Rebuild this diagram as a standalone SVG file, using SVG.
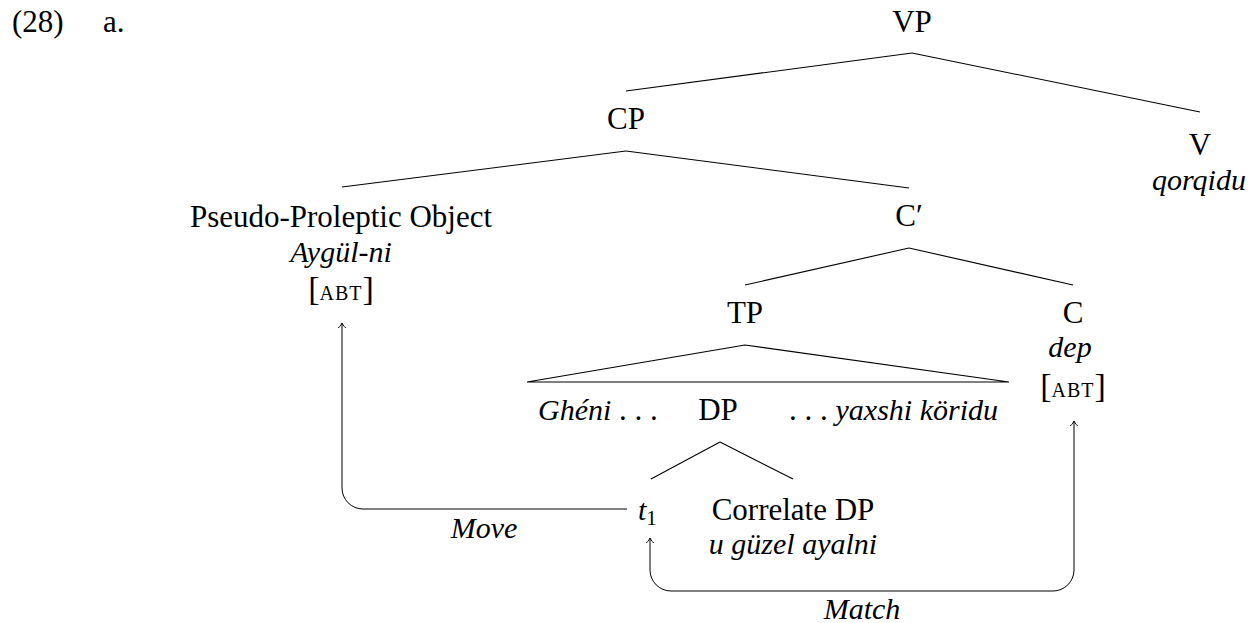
<svg xmlns="http://www.w3.org/2000/svg" width="1260" height="623" viewBox="0 0 1260 623" font-family="'Liberation Serif', Tinos, 'DejaVu Serif', serif">
<style>
  text { font-family: 'Liberation Serif', Tinos, 'DejaVu Serif', serif; font-size: 31px; fill: #000; }
  .c { text-anchor: middle; }
  .i { font-style: italic; font-size: 30px; }
  .br { font-size: 34px; }
  .sc { font-size: 20px; letter-spacing: 1px; }
  .edge { stroke: #000; stroke-width: 1.1; fill: none; }
  .arrow { stroke: #000; stroke-width: 1; fill: none; }
</style>
<defs>
  <marker id="to" markerUnits="userSpaceOnUse" markerWidth="12" markerHeight="12" viewBox="-6 -6 12 12" refX="0" refY="0" orient="auto-start-reverse">
    <path d="M -5 -3.8 C -3 -1.6 -1 -0.4 0 0 C -1 0.4 -3 1.6 -5 3.8" stroke="#000" stroke-width="1" fill="none"/>
  </marker>
</defs>
<rect width="1260" height="623" fill="#fff"/>

<g id="label">
  <text x="12" y="32" font-size="30">(28)</text>
  <text x="103" y="32" font-size="30">a.</text>
</g>

<g id="connectors">
  <path class="edge" d="M 912 53 L 626 91"/>
  <path class="edge" d="M 912 53 L 1200 112"/>
  <path class="edge" d="M 626 151 L 342 187"/>
  <path class="edge" d="M 626 151 L 909 188"/>
  <path class="edge" d="M 909 248 L 745 285"/>
  <path class="edge" d="M 909 248 L 1073 285"/>
  <path class="edge" d="M 745 345 L 527 382 L 1009 382 Z"/>
  <path class="edge" d="M 720 442 L 651 479"/>
  <path class="edge" d="M 720 442 L 793 479"/>
  <path class="arrow" marker-end="url(#to)" d="M 627 509 H 363 A 21 21 0 0 1 342 488 V 323"/>
  <path class="arrow" marker-start="url(#to)" marker-end="url(#to)" d="M 650 538 V 570 A 21 21 0 0 0 671 591 H 1053 A 21 21 0 0 0 1074 570 V 421"/>
  <text class="c i" x="484" y="538">Move</text>
  <text class="c i" x="862" y="619">Match</text>
</g>

<g id="n-vp"><text class="c" x="912" y="32">VP</text></g>
<g id="n-cp"><text class="c" x="626" y="129">CP</text></g>
<g id="n-v">
  <text class="c" x="1200" y="155">V</text>
  <text class="c i" x="1199" y="190">qorqidu</text>
</g>
<g id="n-ppo">
  <text class="c" x="341" y="227">Pseudo-Proleptic Object</text>
  <text class="c i" x="341" y="262">Aygül-ni</text>
  <text class="c" x="341" y="300"><tspan class="br">[</tspan><tspan class="sc">ABT</tspan><tspan class="br">]</tspan></text>
</g>
<g id="n-cbar"><text class="c" x="909" y="226">C′</text></g>
<g id="n-tp"><text class="c" x="745" y="323">TP</text></g>
<g id="n-c">
  <text class="c" x="1073" y="323">C</text>
  <text class="c i" x="1070" y="357">dep</text>
  <text class="c" x="1073" y="397"><tspan class="br">[</tspan><tspan class="sc">ABT</tspan><tspan class="br">]</tspan></text>
</g>
<g id="n-tp-content">
  <text x="538" y="420" font-size="30"><tspan class="i">Ghéni</tspan> . . .</text>
  <text class="c" x="718" y="420">DP</text>
  <text x="998" y="420" text-anchor="end" font-size="30">. . . <tspan class="i">yaxshi köridu</tspan></text>
</g>
<g id="n-t1">
  <text x="638" y="520"><tspan class="i">t</tspan><tspan font-size="21" dy="5">1</tspan></text>
</g>
<g id="n-corr">
  <text class="c" x="793" y="520">Correlate DP</text>
  <text class="c i" x="793" y="554">u güzel ayalni</text>
</g>
</svg>
